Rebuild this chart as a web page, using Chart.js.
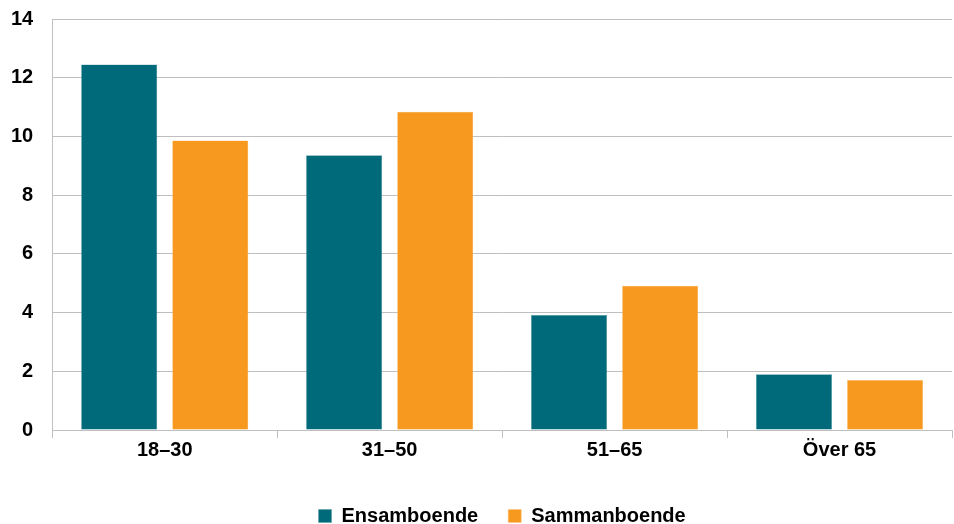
<!DOCTYPE html>
<html>
<head>
<meta charset="utf-8">
<script src="https://cdn.jsdelivr.net/npm/chart.js@4/dist/chart.umd.min.js"></script>
<style>
  html, body { margin: 0; padding: 0; background: #fff; }
  #wrap { width: 954px; height: 524px; }
</style>
</head>
<body>
<div id="wrap"><canvas id="chart" width="954" height="524"></canvas></div>
<script>
// age groups and shares
const categories = ['18–30', '31–50', '51–65', 'Över 65'];
const ensamboende = [12.45, 9.36, 3.92, 1.9];
const sammanboende = [9.86, 10.84, 4.91, 1.7];

const TEAL = '#006A7A';
const ORANGE = '#F7981F';
const GRID = '#BFBFBF';

Chart.defaults.font.family = '"Liberation Sans", Arial, sans-serif';
Chart.defaults.color = '#000';

// center the legend under the plot area instead of the whole canvas
const legendUnderPlot = {
  id: 'legendUnderPlot',
  afterLayout(chart) {
    const lg = chart.legend;
    if (!lg) return;
    lg.left = chart.chartArea.left;
    lg.right = chart.chartArea.right;
  }
};

const ctx = document.getElementById('chart');
new Chart(ctx, {
  type: 'bar',
  data: {
    labels: categories,
    datasets: [
      { label: 'Ensamboende', data: ensamboende, backgroundColor: TEAL, borderColor: '#5f9ca6', borderWidth: 0.5 },
      { label: 'Sammanboende', data: sammanboende, backgroundColor: ORANGE, borderColor: '#fbc27e', borderWidth: 0.5 }
    ]
  },
  plugins: [legendUnderPlot],
  options: {
    responsive: false,
    animation: false,
    categoryPercentage: 0.81,
    barPercentage: 0.835,
    layout: { padding: { top: 0, right: 2, left: 4, bottom: -12 } },
    plugins: {
      tooltip: { enabled: false },
      legend: {
        position: 'bottom',
        labels: {
          boxWidth: 13,
          boxHeight: 13,
          padding: 30,
          font: { size: 20, weight: 'bold' }
        }
      }
    },
    scales: {
      x: {
        grid: { display: true, offset: true, drawOnChartArea: false, color: GRID, tickLength: 8 },
        border: { color: GRID },
        ticks: { font: { size: 20, weight: 'bold' }, padding: 0 },
        afterFit(scale) { scale.height += 14; }
      },
      y: {
        min: 0,
        max: 14,
        ticks: { stepSize: 2, font: { size: 20, weight: 'bold' }, padding: 7 },
        grid: { color: GRID, tickLength: 12, tickColor: 'rgba(0,0,0,0)' },
        border: { color: GRID }
      }
    }
  }
});
</script>
</body>
</html>
